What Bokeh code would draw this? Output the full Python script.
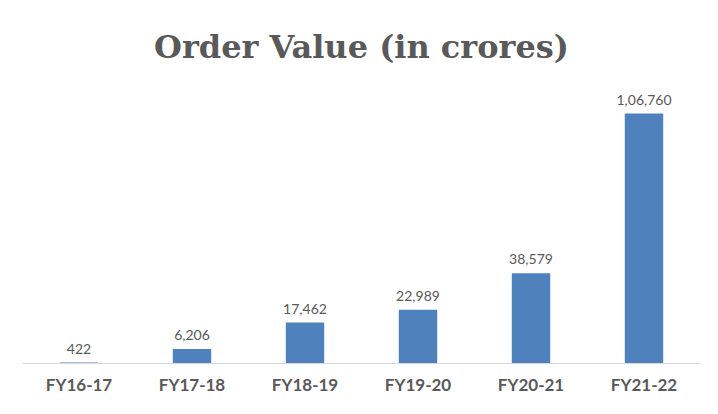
from bokeh.plotting import figure
from bokeh.models import ColumnDataSource, Range1d
from bokeh.core.properties import value
from bokeh.embed import file_html
from bokeh.resources import INLINE

categories = ["FY16-17", "FY17-18", "FY18-19", "FY19-20", "FY20-21", "FY21-22"]
order_value = [422, 6206, 17462, 22989, 38579, 106760]


def indian_format(n):
    s = str(int(n))
    if len(s) <= 3:
        return s
    last3 = s[-3:]
    rest = s[:-3]
    groups = []
    while len(rest) > 2:
        groups.insert(0, rest[-2:])
        rest = rest[:-2]
    if rest:
        groups.insert(0, rest)
    return ",".join(groups) + "," + last3


labels = [indian_format(v) for v in order_value]

source = ColumnDataSource(dict(cat=categories, val=order_value, lab=labels))

p = figure(x_range=categories, y_range=Range1d(0, 120000), width=718, height=414,
           output_backend="svg", toolbar_location=None,
           min_border_left=22, min_border_right=18, min_border_top=82, min_border_bottom=51)

p.vbar(x="cat", top="val", width=0.34, source=source, color="#4F81BD", line_color=None)
p.text(x="cat", y="val", text="lab", source=source, text_align="center", text_baseline="bottom",
       y_offset=-9, text_font=value("Lato"), text_font_size="14px", text_color="#595959")

p.title.text = "Order Value (in crores)"
p.title.align = "center"
p.title.text_font = "DejaVu Serif"
p.title.text_font_style = "bold"
p.title.text_font_size = "32px"
p.title.text_color = "#595959"
p.title.standoff = 34

p.yaxis.visible = False
p.xgrid.visible = False
p.ygrid.visible = False
p.outline_line_color = None
p.xaxis.axis_line_color = "#d9d9d9"
p.xaxis.major_tick_line_color = None
p.xaxis.minor_tick_line_color = None
p.xaxis.major_label_text_font = "Lato"
p.xaxis.major_label_text_font_style = "bold"
p.xaxis.major_label_text_font_size = "17px"
p.xaxis.major_label_text_color = "#595959"
p.xaxis.major_label_standoff = 4
p.x_range.range_padding = 0.0

open("out.html", "w").write(file_html(p, INLINE))
